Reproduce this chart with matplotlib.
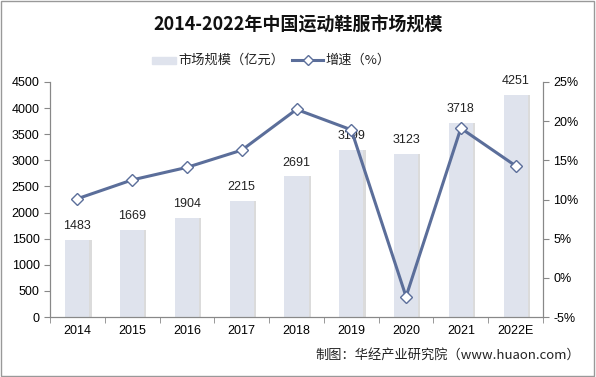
import matplotlib.pyplot as plt
from matplotlib.patches import Rectangle
import numpy as np

plt.rcParams['font.family'] = ['Liberation Sans', 'Noto Sans CJK SC', 'DejaVu Sans']

years = ['2014', '2015', '2016', '2017', '2018', '2019', '2020', '2021', '2022E']
scale = [1483, 1669, 1904, 2215, 2691, 3199, 3123, 3718, 4251]
growth = [10.1, 12.5, 14.1, 16.3, 21.5, 18.9, -2.4, 19.1, 14.3]

bar_color = '#dfe3ed'
line_color = '#5b6e9a'

fig = plt.figure(figsize=(5.96, 3.77), dpi=100)
ax = fig.add_axes([50/596, 60/377, 493/596, 235/377])
ax2 = ax.twinx()

x = np.arange(len(years))
w = 0.44
# soft shadow on right of bars
ax.bar(x + 0.04, scale, width=w, color='#b0b0b0', alpha=0.45, zorder=1)
ax.bar(x, scale, width=w, color=bar_color, zorder=2)
for xi, v in zip(x, scale):
    ax.text(xi, v + 150, str(v), ha='center', va='bottom', fontsize=9,
            color='#222222', zorder=5)

ax.set_xlim(-0.5, len(years) - 0.5)
ax.set_ylim(0, 4500)
ax.set_yticks(range(0, 4501, 500))
ax.set_xticks(x)
ax.set_xticklabels(years)
ax.set_xticks(np.arange(-0.5, len(years), 1), minor=True)
ax.tick_params(axis='x', which='major', length=0, labelsize=9, pad=6)
ax.tick_params(axis='x', which='minor', length=4, color='#888888')
ax.tick_params(axis='y', labelsize=9, length=4, color='#888888')

ax2.plot(x, growth, color=line_color, lw=2.2, marker='D', markersize=6,
         markerfacecolor='white', markeredgecolor=line_color, markeredgewidth=1, zorder=4)
ax2.set_ylim(-5, 25)
ax2.set_yticks(range(-5, 26, 5))
ax2.set_yticklabels([f'{t}%' for t in range(-5, 26, 5)])
ax2.tick_params(axis='y', labelsize=9, length=4, color='#888888')

for a in (ax, ax2):
    a.spines['top'].set_visible(False)
    for s in ('left', 'right', 'bottom'):
        a.spines[s].set_color('#888888')
        a.spines[s].set_linewidth(0.8)
ax.set_zorder(ax2.get_zorder() - 1)
ax2.patch.set_visible(False)

fig.text(0.5, 1 - 25/377, '2014-2022年中国运动鞋服市场规模', ha='center', va='center',
         fontsize=13, fontweight='bold', color='#111111',
         family=['Noto Sans CJK SC', 'DejaVu Sans'])

# legend
fig.patches.append(Rectangle((152/596, 1 - 64/377), 24/596, 7/377, transform=fig.transFigure,
                             color=bar_color))
fig.text(178/596, 1 - 60/377, '市场规模（亿元）', ha='left', va='center', fontsize=9.5,
         color='#222222', family=['Noto Sans CJK SC', 'DejaVu Sans'])
fig.lines.append(plt.Line2D([292/596, 307.5/596, 323/596], [1 - 60/377] * 3,
                            transform=fig.transFigure, color=line_color, lw=2.2,
                            marker='D', markersize=5, markevery=[1],
                            markerfacecolor='white', markeredgecolor=line_color))
fig.text(325/596, 1 - 60/377, '增速（%）', ha='left', va='center', fontsize=9.5,
         color='#222222', family=['Noto Sans CJK SC', 'DejaVu Sans'])

fig.text(580/596, 1 - 355/377, '制图：华经产业研究院（www.huaon.com）', ha='right', va='center',
         fontsize=9.5, color='#222222', family=['Noto Sans CJK SC', 'DejaVu Sans'])

fig.patches.append(Rectangle((0.002, 0.003), 0.995, 0.994, transform=fig.transFigure,
                             fill=False, edgecolor='#999999', lw=1))

fig.savefig('out.png', dpi=100)
